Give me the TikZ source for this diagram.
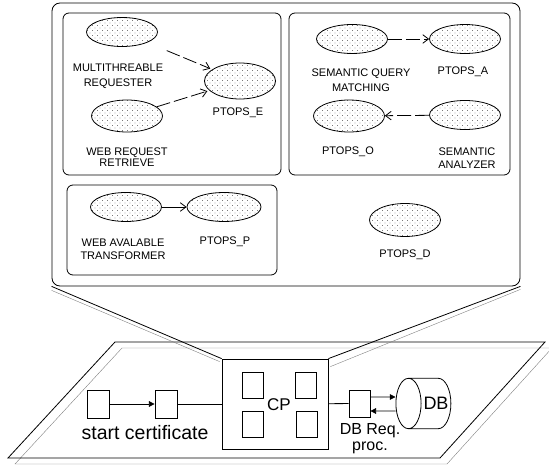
\documentclass[tikz,border=0pt]{standalone}
\usepackage{fontspec}
\setmainfont{Liberation Sans}
\usetikzlibrary{shapes.geometric,arrows.meta,patterns,positioning}
\pgfdeclarepatternformonly{sparsedots}{\pgfpoint{-1pt}{-1pt}}{\pgfpoint{4pt}{4pt}}{\pgfpoint{5pt}{5pt}}{%
    \pgfpathcircle{\pgfpoint{0pt}{0pt}}{0.45pt}
    \pgfpathcircle{\pgfpoint{2.5pt}{2.5pt}}{0.45pt}
    \pgfusepath{fill}}

\begin{document}
\begin{tikzpicture}[x=1pt, y=-1pt,
    grp/.style={rectangle, draw, thick, rounded corners=6pt},
    proc/.style={ellipse, draw, thick, pattern=sparsedots, pattern color=black!80,
        minimum width=71pt, minimum height=29pt, inner sep=0pt},
    lbl/.style={align=center, font=\fontsize{11}{13}\selectfont, inner sep=0pt},
    blk/.style={rectangle, draw, thick, minimum width=21pt, minimum height=27pt,
        inner sep=0pt},
    big/.style={font=\fontsize{19.5}{13}\selectfont, inner sep=0pt},
    arr/.style={-{Straight Barb[length=2mm,width=3mm]}, thick,
        dash pattern=on 14pt off 4pt},
    arrf/.style={-{Triangle[length=2mm,width=2mm]}, thick},
    shade/.style={thin, black!50}
]
    \useasboundingbox (0,0) rectangle (549,468);

    % upper part
    \node[grp, rounded corners=8pt, minimum width=468pt, minimum height=283pt] (outer) at (286,144.5) {};
    \node[grp, minimum width=218pt, minimum height=162pt] (grpe) at (172,94) {};
    \node[grp, minimum width=221pt, minimum height=162pt] (grpa) at (399.5,94) {};
    \node[grp, minimum width=210pt, minimum height=90pt] (grpp) at (172,230) {};

    \node[proc] (multi) at (122,32) {};
    \node[proc, minimum height=32pt] (webreq) at (127,116) {};
    \node[proc, minimum height=36pt] (ptopse) at (240,81) {};
    \node[lbl] (lmulti) at (118,76.5) {MULTITHREABLE\\[2pt]REQUESTER};
    \node[lbl] (lwebreq) at (127,157.5) {WEB REQUEST\\[-2pt]RETRIEVE};
    \node[lbl] (lptopse) at (238,113) {PTOPS\_E};

    \node[proc] (semq) at (352,39) {};
    \node[proc] (ptopsa) at (465,39) {};
    \node[proc, minimum height=32pt] (ptopso) at (349,116) {};
    \node[proc] (seman) at (465,115) {};
    \node[lbl] (lsemq) at (361,80) {SEMANTIC QUERY\\[2pt]MATCHING};
    \node[lbl] (lptopsa) at (463,72) {PTOPS\_A};
    \node[lbl] (lptopso) at (348,152) {PTOPS\_O};
    \node[lbl] (lseman) at (467,158) {SEMANTIC\\ANALYZER};

    \node[proc] (webav) at (126,207) {};
    \node[proc, minimum width=74pt] (ptopsp) at (224,207) {};
    \node[lbl] (lwebav) at (123,249) {WEB AVALABLE\\TRANSFORMER};
    \node[lbl] (lptopsp) at (225,242) {PTOPS\_P};

    \node[proc, minimum height=33pt] (ptopsd) at (405,220) {};
    \node[lbl] (lptopsd) at (405,255) {PTOPS\_D};

    \draw[arr, shorten <=21pt, shorten >=2pt] (multi) -- (ptopse);
    \draw[arr, shorten >=2pt] (webreq) -- (ptopse);
    \draw[arr] (semq) -- (ptopsa);
    \draw[arr] (seman) -- (ptopso);
    \draw[arr, dash pattern=] (webav) -- (ptopsp);

    % lower plane
    \draw[shade] (15,464) -- (122,348) -- (552,348) -- (447,464) -- cycle;
    \draw[thick] (8,458) -- (115,342) -- (545,342) -- (440,458) -- cycle;

    \node[draw, thick, fill=white, minimum width=106pt, minimum height=90pt] (cp) at (275,404) {};
    \node[blk, minimum height=26pt] (cpa) at (252.5,385) {};
    \node[blk, minimum height=26pt] (cpb) at (252.5,424.5) {};
    \node[blk, minimum height=26pt] (cpc) at (306,385) {};
    \node[blk, minimum height=26pt] (cpd) at (307,424.5) {};
    \node[big, font=\fontsize{17}{13}\selectfont] (lcp) at (279,405) {CP};

    \node[blk, minimum width=22pt, minimum height=28pt] (start) at (98,404) {};
    \node[blk, minimum width=22pt, minimum height=28pt] (cert) at (166,404) {};
    \node[big] (lstart) at (145,433) {start certificate};

    \node[blk] (dbreq) at (359.5,403.5) {};
    \node[big, align=center, font=\fontsize{16}{16}\selectfont] (ldbreq) at (370,439) {DB Req.\\proc.};
    \node[cylinder, draw, thick, shape border rotate=180, aspect=0.5,
        inner xsep=2pt, inner ysep=19pt, font=\fontsize{18}{13}\selectfont] (db) at (436,403.5) {DB};

    \draw[arrf] (start) -- (cert);
    \draw[thick] (cert) -- (cp);
    \draw[thick] (cp) -- (dbreq);
    \draw[arrf] ([yshift=6.5pt]dbreq.east) -- ([yshift=6.5pt]db.west);
    \draw[arrf] ([yshift=-7.5pt]db.west) -- ([yshift=-7.5pt]dbreq.east);

    % zoom lines
    \draw[thick] (outer.south west) -- (cp.north west);
    \draw[shade] ([yshift=-4pt]outer.south west) -- ([shift={(-2pt,-3pt)}]cp.north west);
    \draw[thick] (outer.south east) -- (cp.north east);
    \draw[shade] ([yshift=-3pt]outer.south east) -- ([shift={(2pt,-8pt)}]cp.north east);
\end{tikzpicture}
\end{document}
